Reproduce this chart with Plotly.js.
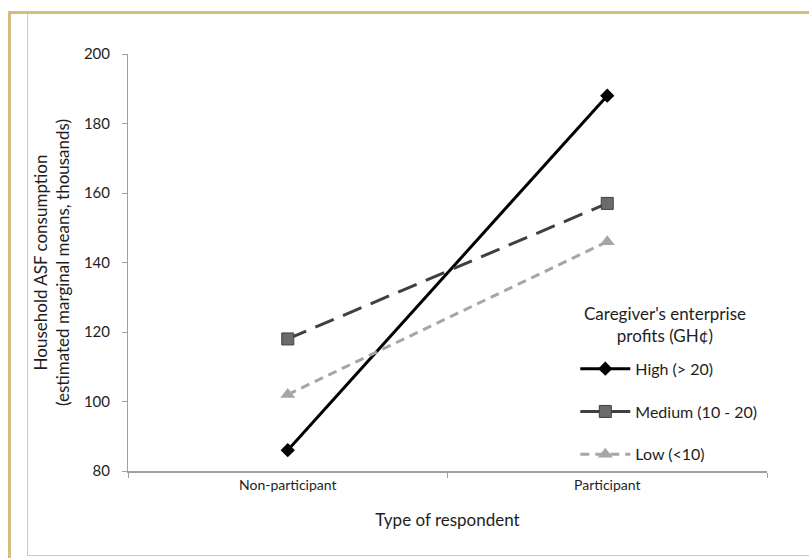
<!DOCTYPE html>
<html>
<head>
<meta charset="utf-8">
<script src="https://cdn.plot.ly/plotly-3.0.1.min.js"></script>
<style>
html,body{margin:0;padding:0;background:#fff;}
#wrap{position:relative;width:809px;height:558px;overflow:hidden;}
#chart{position:absolute;left:0;top:0;width:809px;height:558px;}
#gold{position:absolute;left:8px;top:11px;width:820px;height:600px;border-top:3px solid #d5bd80;border-left:3px solid #d5bd80;pointer-events:none;}
#inner{position:absolute;left:27px;top:14px;width:800px;height:541px;border-left:1px solid #c9c9c9;border-bottom:1px solid #c9c9c9;pointer-events:none;}
</style>
</head>
<body>
<div id="wrap">
<div id="chart"></div>
<div id="gold"></div>
<div id="inner"></div>
</div>
<script>
const categories = ["Non-participant", "Participant"];
const seriesNames = ["High (> 20)", "Medium (10 - 20)", "Low (<10)"];
const highValues = [86, 188];
const mediumValues = [118, 157];
const lowValues = [102, 146];
const yTicks = [80, 100, 120, 140, 160, 180, 200];
const legendTitle = "Caregiver's enterprise<br>profits (GH¢)";

const font = "Lato, 'Open Sans', 'Liberation Sans', sans-serif";
const txt = "#1e1e1e";

const traces = [
  {
    x: categories, y: highValues, name: seriesNames[0], type: "scatter", mode: "lines+markers",
    line: {color: "#000000", width: 3, dash: "solid"},
    marker: {symbol: "diamond", size: 11, color: "#000000"},
    legendgroup: "a"
  },
  {
    x: categories, y: mediumValues, name: seriesNames[1], type: "scatter", mode: "lines+markers",
    line: {color: "#404040", width: 3, dash: "20px,10px"},
    marker: {symbol: "square", size: 12, color: "#6b6b6b", line: {color: "#404040", width: 1}},
    legendgroup: "b"
  },
  {
    x: categories, y: lowValues, name: seriesNames[2], type: "scatter", mode: "lines+markers",
    line: {color: "#a6a6a6", width: 3, dash: "9px,6px"},
    marker: {symbol: "triangle-up", size: 13, color: "#a6a6a6"},
    legendgroup: "c"
  }
];

const layout = {
  width: 809, height: 558,
  margin: {l: 128, r: 42, t: 54, b: 87},
  paper_bgcolor: "#ffffff", plot_bgcolor: "#ffffff",
  font: {family: font, size: 14, color: txt},
  showlegend: true,
  legend: {
    x: 0.7, xanchor: "left", y: 0.286, yanchor: "top",
    bgcolor: "rgba(0,0,0,0)",
    font: {family: font, size: 16, color: txt},
    traceorder: "grouped", tracegroupgap: 19,
    itemwidth: 50
  },
  annotations: [{
    xref: "paper", yref: "paper", x: 0.84, y: 0.3525, xanchor: "center", yanchor: "middle",
    text: legendTitle, showarrow: false, align: "center",
    font: {family: font, size: 17, color: txt}
  }],
  xaxis: {
    type: "category", range: [-0.5, 1.5],
    showline: true, linecolor: "#a0a0a0", linewidth: 2,
    showgrid: false, zeroline: false,
    ticks: "outside", tickson: "boundaries", ticklen: 5, tickcolor: "#a0a0a0", tickwidth: 1,
    tickfont: {family: font, size: 14, color: txt},
    title: {text: "Type of respondent", font: {family: font, size: 17, color: txt}, standoff: 22}
  },
  yaxis: {
    range: [80, 200], tickvals: yTicks, ticktext: yTicks.map(String),
    showline: true, linecolor: "#a0a0a0", linewidth: 1,
    showgrid: false, zeroline: false,
    ticks: "outside", ticklen: 5, tickcolor: "#a0a0a0", ticklabelstandoff: 9,
    tickfont: {family: font, size: 15, color: txt},
    title: {text: "Household ASF consumption<br>(estimated marginal means, thousands)", font: {family: font, size: 17, color: txt}, standoff: 9}
  }
};

Plotly.newPlot("chart", traces, layout, {displayModeBar: false, staticPlot: true});
</script>
</body>
</html>
